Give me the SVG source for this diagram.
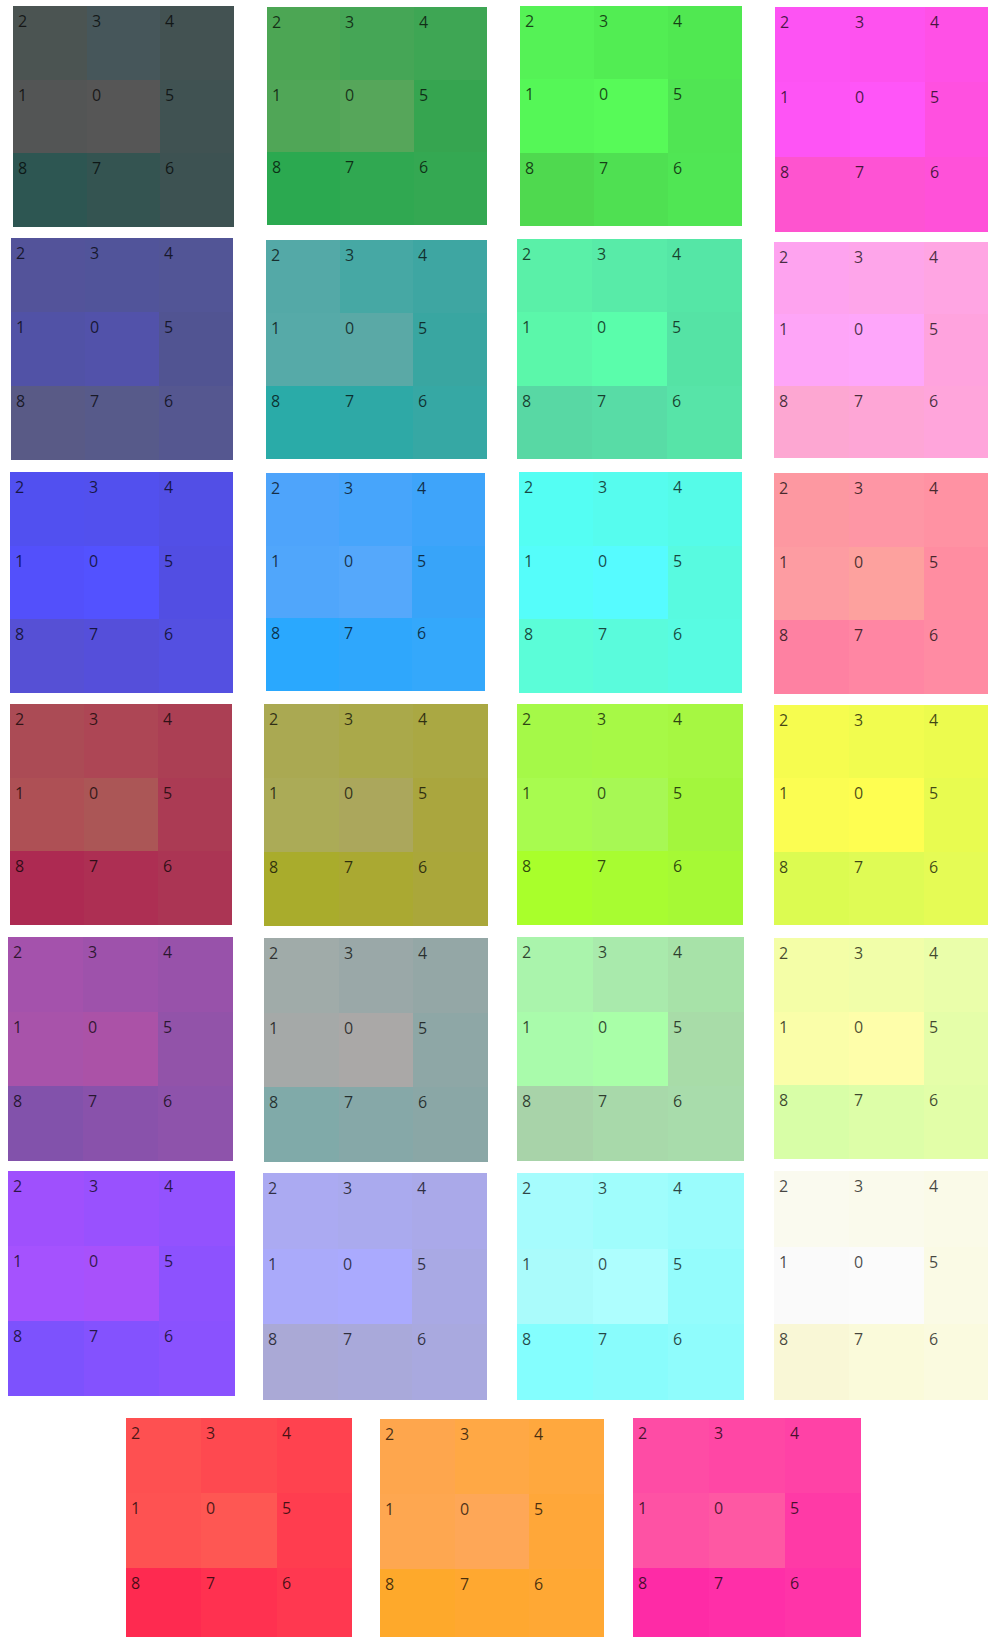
<svg xmlns="http://www.w3.org/2000/svg" width="988" height="1637" viewBox="0 0 988 1637">
<style>
rect{shape-rendering:crispEdges}
text{font-family:"Open Sans","Liberation Sans",sans-serif;font-size:16px;fill:#000;fill-opacity:0.72}
</style>
<rect width="988" height="1637" fill="#ffffff"/>

<g id="r1c1" transform="translate(13,6)"><g transform="scale(73.67,73.67)"><rect width="1" height="1" fill="#4b5452"/><rect x="1" width="1" height="1" fill="#46565a"/><rect x="2" width="1" height="1" fill="#435252"/><rect y="1" width="1" height="1" fill="#535555"/><rect x="1" y="1" width="1" height="1" fill="#565656"/><rect x="2" y="1" width="1" height="1" fill="#405252"/><rect y="2" width="1" height="1" fill="#2d5652"/><rect x="1" y="2" width="1" height="1" fill="#345451"/><rect x="2" y="2" width="1" height="1" fill="#3d5252"/></g><text x="5" y="21">2</text><text x="79" y="21">3</text><text x="152" y="21">4</text><text x="5" y="95">1</text><text x="79" y="95">0</text><text x="152" y="95">5</text><text x="5" y="168">8</text><text x="79" y="168">7</text><text x="152" y="168">6</text></g>

<g id="r1c2" transform="translate(267,7)"><g transform="scale(73.33,72.67)"><rect width="1" height="1" fill="#4ca654"/><rect x="1" width="1" height="1" fill="#45a656"/><rect x="2" width="1" height="1" fill="#3ea654"/><rect y="1" width="1" height="1" fill="#50a657"/><rect x="1" y="1" width="1" height="1" fill="#56a65a"/><rect x="2" y="1" width="1" height="1" fill="#36a550"/><rect y="2" width="1" height="1" fill="#2ba950"/><rect x="1" y="2" width="1" height="1" fill="#30a851"/><rect x="2" y="2" width="1" height="1" fill="#34a852"/></g><text x="5" y="21">2</text><text x="78" y="21">3</text><text x="152" y="21">4</text><text x="5" y="94">1</text><text x="78" y="94">0</text><text x="152" y="94">5</text><text x="5" y="166">8</text><text x="78" y="166">7</text><text x="152" y="166">6</text></g>

<g id="r1c3" transform="translate(520,6)"><g transform="scale(74,73.33)"><rect width="1" height="1" fill="#55f256"/><rect x="1" width="1" height="1" fill="#52ed53"/><rect x="2" width="1" height="1" fill="#50e851"/><rect y="1" width="1" height="1" fill="#55f757"/><rect x="1" y="1" width="1" height="1" fill="#57fa58"/><rect x="2" y="1" width="1" height="1" fill="#50e553"/><rect y="2" width="1" height="1" fill="#4fd94f"/><rect x="1" y="2" width="1" height="1" fill="#4fe052"/><rect x="2" y="2" width="1" height="1" fill="#50e654"/></g><text x="5" y="21">2</text><text x="79" y="21">3</text><text x="153" y="21">4</text><text x="5" y="94">1</text><text x="79" y="94">0</text><text x="153" y="94">5</text><text x="5" y="168">8</text><text x="79" y="168">7</text><text x="153" y="168">6</text></g>

<g id="r1c4" transform="translate(775,7)"><g transform="scale(75,75)"><rect width="1" height="1" fill="#fd53f3"/><rect x="1" width="1" height="1" fill="#fe52ef"/><rect x="2" width="1" height="1" fill="#ff50e6"/><rect y="1" width="1" height="1" fill="#fe54f5"/><rect x="1" y="1" width="1" height="1" fill="#ff55f8"/><rect x="2" y="1" width="1" height="1" fill="#ff50e0"/><rect y="2" width="1" height="1" fill="#fe54cf"/><rect x="1" y="2" width="1" height="1" fill="#fe53d4"/><rect x="2" y="2" width="1" height="1" fill="#ff51d9"/></g><text x="5" y="21">2</text><text x="80" y="21">3</text><text x="155" y="21">4</text><text x="5" y="96">1</text><text x="80" y="96">0</text><text x="155" y="96">5</text><text x="5" y="171">8</text><text x="80" y="171">7</text><text x="155" y="171">6</text></g>

<g id="r2c1" transform="translate(11,238)"><g transform="scale(74,74)"><rect width="1" height="1" fill="#53539a"/><rect x="1" width="1" height="1" fill="#51549a"/><rect x="2" width="1" height="1" fill="#525596"/><rect y="1" width="1" height="1" fill="#5152a6"/><rect x="1" y="1" width="1" height="1" fill="#5252aa"/><rect x="2" y="1" width="1" height="1" fill="#515492"/><rect y="2" width="1" height="1" fill="#595a86"/><rect x="1" y="2" width="1" height="1" fill="#575a8a"/><rect x="2" y="2" width="1" height="1" fill="#555790"/></g><text x="5" y="21">2</text><text x="79" y="21">3</text><text x="153" y="21">4</text><text x="5" y="95">1</text><text x="79" y="95">0</text><text x="153" y="95">5</text><text x="5" y="169">8</text><text x="79" y="169">7</text><text x="153" y="169">6</text></g>

<g id="r2c2" transform="translate(266,240)"><g transform="scale(73.67,73)"><rect width="1" height="1" fill="#54a9a7"/><rect x="1" width="1" height="1" fill="#46a8a4"/><rect x="2" width="1" height="1" fill="#3ea6a2"/><rect y="1" width="1" height="1" fill="#56aaa8"/><rect x="1" y="1" width="1" height="1" fill="#5aa9a6"/><rect x="2" y="1" width="1" height="1" fill="#39a6a1"/><rect y="2" width="1" height="1" fill="#2aaba8"/><rect x="1" y="2" width="1" height="1" fill="#2ea9a6"/><rect x="2" y="2" width="1" height="1" fill="#36a8a4"/></g><text x="5" y="21">2</text><text x="79" y="21">3</text><text x="152" y="21">4</text><text x="5" y="94">1</text><text x="79" y="94">0</text><text x="152" y="94">5</text><text x="5" y="167">8</text><text x="79" y="167">7</text><text x="152" y="167">6</text></g>

<g id="r2c3" transform="translate(517,239)"><g transform="scale(75,73.33)"><rect width="1" height="1" fill="#5af0a8"/><rect x="1" width="1" height="1" fill="#58eba8"/><rect x="2" width="1" height="1" fill="#55e6a6"/><rect y="1" width="1" height="1" fill="#5bf7aa"/><rect x="1" y="1" width="1" height="1" fill="#5afdab"/><rect x="2" y="1" width="1" height="1" fill="#55e3a5"/><rect y="2" width="1" height="1" fill="#58d8a4"/><rect x="1" y="2" width="1" height="1" fill="#58dca6"/><rect x="2" y="2" width="1" height="1" fill="#57e4a8"/></g><text x="5" y="21">2</text><text x="80" y="21">3</text><text x="155" y="21">4</text><text x="5" y="94">1</text><text x="80" y="94">0</text><text x="155" y="94">5</text><text x="5" y="168">8</text><text x="80" y="168">7</text><text x="155" y="168">6</text></g>

<g id="r2c4" transform="translate(774,242)"><g transform="scale(75,72)"><rect width="1" height="1" fill="#fea3ef"/><rect x="1" width="1" height="1" fill="#fea5ea"/><rect x="2" width="1" height="1" fill="#ffa5e3"/><rect y="1" width="1" height="1" fill="#fea5f7"/><rect x="1" y="1" width="1" height="1" fill="#fea6fa"/><rect x="2" y="1" width="1" height="1" fill="#ffa3de"/><rect y="2" width="1" height="1" fill="#fda7d2"/><rect x="1" y="2" width="1" height="1" fill="#fea6d6"/><rect x="2" y="2" width="1" height="1" fill="#ffa5db"/></g><text x="5" y="21">2</text><text x="80" y="21">3</text><text x="155" y="21">4</text><text x="5" y="93">1</text><text x="80" y="93">0</text><text x="155" y="93">5</text><text x="5" y="165">8</text><text x="80" y="165">7</text><text x="155" y="165">6</text></g>

<g id="r3c1" transform="translate(10,472)"><g transform="scale(74.33,73.67)"><rect width="1" height="1" fill="#5150f0"/><rect x="1" width="1" height="1" fill="#5250ee"/><rect x="2" width="1" height="1" fill="#524fe6"/><rect y="1" width="1" height="1" fill="#5350fb"/><rect x="1" y="1" width="1" height="1" fill="#5352ff"/><rect x="2" y="1" width="1" height="1" fill="#524ee3"/><rect y="2" width="1" height="1" fill="#5650d5"/><rect x="1" y="2" width="1" height="1" fill="#554fda"/><rect x="2" y="2" width="1" height="1" fill="#5450e1"/></g><text x="5" y="21">2</text><text x="79" y="21">3</text><text x="154" y="21">4</text><text x="5" y="95">1</text><text x="79" y="95">0</text><text x="154" y="95">5</text><text x="5" y="168">8</text><text x="79" y="168">7</text><text x="154" y="168">6</text></g>

<g id="r3c2" transform="translate(266,473)"><g transform="scale(73,72.67)"><rect width="1" height="1" fill="#4ea4fb"/><rect x="1" width="1" height="1" fill="#47a5fb"/><rect x="2" width="1" height="1" fill="#3ea4fa"/><rect y="1" width="1" height="1" fill="#50a6fb"/><rect x="1" y="1" width="1" height="1" fill="#55a8fb"/><rect x="2" y="1" width="1" height="1" fill="#38a4f9"/><rect y="2" width="1" height="1" fill="#2aa8fe"/><rect x="1" y="2" width="1" height="1" fill="#2fa7fc"/><rect x="2" y="2" width="1" height="1" fill="#34a8fb"/></g><text x="5" y="21">2</text><text x="78" y="21">3</text><text x="151" y="21">4</text><text x="5" y="94">1</text><text x="78" y="94">0</text><text x="151" y="94">5</text><text x="5" y="166">8</text><text x="78" y="166">7</text><text x="151" y="166">6</text></g>

<g id="r3c3" transform="translate(519,472)"><g transform="scale(74.33,73.67)"><rect width="1" height="1" fill="#54fef3"/><rect x="1" width="1" height="1" fill="#56fcee"/><rect x="2" width="1" height="1" fill="#55fbe8"/><rect y="1" width="1" height="1" fill="#55fdfa"/><rect x="1" y="1" width="1" height="1" fill="#56fbff"/><rect x="2" y="1" width="1" height="1" fill="#58fae0"/><rect y="2" width="1" height="1" fill="#5bfdd8"/><rect x="1" y="2" width="1" height="1" fill="#5afbdc"/><rect x="2" y="2" width="1" height="1" fill="#58fbe2"/></g><text x="5" y="21">2</text><text x="79" y="21">3</text><text x="154" y="21">4</text><text x="5" y="95">1</text><text x="79" y="95">0</text><text x="154" y="95">5</text><text x="5" y="168">8</text><text x="79" y="168">7</text><text x="154" y="168">6</text></g>

<g id="r3c4" transform="translate(774,473)"><g transform="scale(75,73.67)"><rect width="1" height="1" fill="#fd98a1"/><rect x="1" width="1" height="1" fill="#fe96a5"/><rect x="2" width="1" height="1" fill="#ff92a3"/><rect y="1" width="1" height="1" fill="#fd9ca2"/><rect x="1" y="1" width="1" height="1" fill="#fda19e"/><rect x="2" y="1" width="1" height="1" fill="#ff8da1"/><rect y="2" width="1" height="1" fill="#fe81a2"/><rect x="1" y="2" width="1" height="1" fill="#ff86a3"/><rect x="2" y="2" width="1" height="1" fill="#ff8ba3"/></g><text x="5" y="21">2</text><text x="80" y="21">3</text><text x="155" y="21">4</text><text x="5" y="95">1</text><text x="80" y="95">0</text><text x="155" y="95">5</text><text x="5" y="168">8</text><text x="80" y="168">7</text><text x="155" y="168">6</text></g>

<g id="r4c1" transform="translate(10,704)"><g transform="scale(74,73.67)"><rect width="1" height="1" fill="#ab4b55"/><rect x="1" width="1" height="1" fill="#ad4655"/><rect x="2" width="1" height="1" fill="#ab3f54"/><rect y="1" width="1" height="1" fill="#ae5055"/><rect x="1" y="1" width="1" height="1" fill="#ab5656"/><rect x="2" y="1" width="1" height="1" fill="#ab3b54"/><rect y="2" width="1" height="1" fill="#ad2a52"/><rect x="1" y="2" width="1" height="1" fill="#ad2f53"/><rect x="2" y="2" width="1" height="1" fill="#ab3554"/></g><text x="5" y="21">2</text><text x="79" y="21">3</text><text x="153" y="21">4</text><text x="5" y="95">1</text><text x="79" y="95">0</text><text x="153" y="95">5</text><text x="5" y="168">8</text><text x="79" y="168">7</text><text x="153" y="168">6</text></g>

<g id="r4c2" transform="translate(264,704)"><g transform="scale(74.67,74)"><rect width="1" height="1" fill="#aaa952"/><rect x="1" width="1" height="1" fill="#aaa94a"/><rect x="2" width="1" height="1" fill="#aaa843"/><rect y="1" width="1" height="1" fill="#abab57"/><rect x="1" y="1" width="1" height="1" fill="#aba75c"/><rect x="2" y="1" width="1" height="1" fill="#aaa63e"/><rect y="2" width="1" height="1" fill="#a9ac2c"/><rect x="1" y="2" width="1" height="1" fill="#aaa932"/><rect x="2" y="2" width="1" height="1" fill="#aaa73a"/></g><text x="5" y="21">2</text><text x="80" y="21">3</text><text x="154" y="21">4</text><text x="5" y="95">1</text><text x="80" y="95">0</text><text x="154" y="95">5</text><text x="5" y="169">8</text><text x="80" y="169">7</text><text x="154" y="169">6</text></g>

<g id="r4c3" transform="translate(517,704)"><g transform="scale(75.33,73.67)"><rect width="1" height="1" fill="#a5f948"/><rect x="1" width="1" height="1" fill="#a7f946"/><rect x="2" width="1" height="1" fill="#a6f742"/><rect y="1" width="1" height="1" fill="#a8fb4f"/><rect x="1" y="1" width="1" height="1" fill="#a7f854"/><rect x="2" y="1" width="1" height="1" fill="#a3f63d"/><rect y="2" width="1" height="1" fill="#a9ff2b"/><rect x="1" y="2" width="1" height="1" fill="#a8fc31"/><rect x="2" y="2" width="1" height="1" fill="#a6f935"/></g><text x="5" y="21">2</text><text x="80" y="21">3</text><text x="156" y="21">4</text><text x="5" y="95">1</text><text x="80" y="95">0</text><text x="156" y="95">5</text><text x="5" y="168">8</text><text x="80" y="168">7</text><text x="156" y="168">6</text></g>

<g id="r4c4" transform="translate(774,705)"><g transform="scale(75,73.33)"><rect width="1" height="1" fill="#f6fc4f"/><rect x="1" width="1" height="1" fill="#f1fc4f"/><rect x="2" width="1" height="1" fill="#ecfb4e"/><rect y="1" width="1" height="1" fill="#fbfd52"/><rect x="1" y="1" width="1" height="1" fill="#fefe51"/><rect x="2" y="1" width="1" height="1" fill="#e8fb50"/><rect y="2" width="1" height="1" fill="#dcfb51"/><rect x="1" y="2" width="1" height="1" fill="#dffb55"/><rect x="2" y="2" width="1" height="1" fill="#e5fb55"/></g><text x="5" y="21">2</text><text x="80" y="21">3</text><text x="155" y="21">4</text><text x="5" y="94">1</text><text x="80" y="94">0</text><text x="155" y="94">5</text><text x="5" y="168">8</text><text x="80" y="168">7</text><text x="155" y="168">6</text></g>

<g id="r5c1" transform="translate(8,937)"><g transform="scale(75,74.67)"><rect width="1" height="1" fill="#a452ac"/><rect x="1" width="1" height="1" fill="#9e52ab"/><rect x="2" width="1" height="1" fill="#9852aa"/><rect y="1" width="1" height="1" fill="#a853aa"/><rect x="1" y="1" width="1" height="1" fill="#ab52a7"/><rect x="2" y="1" width="1" height="1" fill="#9253a9"/><rect y="2" width="1" height="1" fill="#8252ab"/><rect x="1" y="2" width="1" height="1" fill="#8952ab"/><rect x="2" y="2" width="1" height="1" fill="#8e53ab"/></g><text x="5" y="21">2</text><text x="80" y="21">3</text><text x="155" y="21">4</text><text x="5" y="96">1</text><text x="80" y="96">0</text><text x="155" y="96">5</text><text x="5" y="170">8</text><text x="80" y="170">7</text><text x="155" y="170">6</text></g>

<g id="r5c2" transform="translate(264,938)"><g transform="scale(74.67,74.67)"><rect width="1" height="1" fill="#a0aba9"/><rect x="1" width="1" height="1" fill="#9aa8a8"/><rect x="2" width="1" height="1" fill="#94a7a6"/><rect y="1" width="1" height="1" fill="#a5a9a8"/><rect x="1" y="1" width="1" height="1" fill="#aaa8a7"/><rect x="2" y="1" width="1" height="1" fill="#8ea7a6"/><rect y="2" width="1" height="1" fill="#80aaa9"/><rect x="1" y="2" width="1" height="1" fill="#86a8a8"/><rect x="2" y="2" width="1" height="1" fill="#8aa7a6"/></g><text x="5" y="21">2</text><text x="80" y="21">3</text><text x="154" y="21">4</text><text x="5" y="96">1</text><text x="80" y="96">0</text><text x="154" y="96">5</text><text x="5" y="170">8</text><text x="80" y="170">7</text><text x="154" y="170">6</text></g>

<g id="r5c3" transform="translate(517,937)"><g transform="scale(75.67,74.67)"><rect width="1" height="1" fill="#aaf4ac"/><rect x="1" width="1" height="1" fill="#a9eaac"/><rect x="2" width="1" height="1" fill="#a7e2a8"/><rect y="1" width="1" height="1" fill="#a9fbab"/><rect x="1" y="1" width="1" height="1" fill="#a9ffa8"/><rect x="2" y="1" width="1" height="1" fill="#a8dca8"/><rect y="2" width="1" height="1" fill="#a8d3a9"/><rect x="1" y="2" width="1" height="1" fill="#a8d9aa"/><rect x="2" y="2" width="1" height="1" fill="#a8dcab"/></g><text x="5" y="21">2</text><text x="81" y="21">3</text><text x="156" y="21">4</text><text x="5" y="96">1</text><text x="81" y="96">0</text><text x="156" y="96">5</text><text x="5" y="170">8</text><text x="81" y="170">7</text><text x="156" y="170">6</text></g>

<g id="r5c4" transform="translate(774,938)"><g transform="scale(75,73.67)"><rect width="1" height="1" fill="#f4fea7"/><rect x="1" width="1" height="1" fill="#f1fea9"/><rect x="2" width="1" height="1" fill="#eafeaa"/><rect y="1" width="1" height="1" fill="#fafea9"/><rect x="1" y="1" width="1" height="1" fill="#fefeaa"/><rect x="2" y="1" width="1" height="1" fill="#e5fea9"/><rect y="2" width="1" height="1" fill="#d8fea7"/><rect x="1" y="2" width="1" height="1" fill="#ddfea8"/><rect x="2" y="2" width="1" height="1" fill="#e2fea8"/></g><text x="5" y="21">2</text><text x="80" y="21">3</text><text x="155" y="21">4</text><text x="5" y="95">1</text><text x="80" y="95">0</text><text x="155" y="95">5</text><text x="5" y="168">8</text><text x="80" y="168">7</text><text x="155" y="168">6</text></g>

<g id="r6c1" transform="translate(8,1171)"><g transform="scale(75.67,75)"><rect width="1" height="1" fill="#9f50fd"/><rect x="1" width="1" height="1" fill="#9951fe"/><rect x="2" width="1" height="1" fill="#9352fe"/><rect y="1" width="1" height="1" fill="#a552fe"/><rect x="1" y="1" width="1" height="1" fill="#a851fb"/><rect x="2" y="1" width="1" height="1" fill="#8d52fe"/><rect y="2" width="1" height="1" fill="#7d52fd"/><rect x="1" y="2" width="1" height="1" fill="#8452fe"/><rect x="2" y="2" width="1" height="1" fill="#8a52fe"/></g><text x="5" y="21">2</text><text x="81" y="21">3</text><text x="156" y="21">4</text><text x="5" y="96">1</text><text x="81" y="96">0</text><text x="156" y="96">5</text><text x="5" y="171">8</text><text x="81" y="171">7</text><text x="156" y="171">6</text></g>

<g id="r6c2" transform="translate(263,1173)"><g transform="scale(74.67,75.67)"><rect width="1" height="1" fill="#abaaf2"/><rect x="1" width="1" height="1" fill="#aaaaee"/><rect x="2" width="1" height="1" fill="#aaa9e9"/><rect y="1" width="1" height="1" fill="#aaaafa"/><rect x="1" y="1" width="1" height="1" fill="#aaaafe"/><rect x="2" y="1" width="1" height="1" fill="#a9a9e4"/><rect y="2" width="1" height="1" fill="#aaa9d6"/><rect x="1" y="2" width="1" height="1" fill="#a9a9da"/><rect x="2" y="2" width="1" height="1" fill="#a9a9df"/></g><text x="5" y="21">2</text><text x="80" y="21">3</text><text x="154" y="21">4</text><text x="5" y="97">1</text><text x="80" y="97">0</text><text x="154" y="97">5</text><text x="5" y="172">8</text><text x="80" y="172">7</text><text x="154" y="172">6</text></g>

<g id="r6c3" transform="translate(517,1173)"><g transform="scale(75.67,75.67)"><rect width="1" height="1" fill="#a6fcfd"/><rect x="1" width="1" height="1" fill="#a0fdfc"/><rect x="2" width="1" height="1" fill="#9afcfc"/><rect y="1" width="1" height="1" fill="#aafbfb"/><rect x="1" y="1" width="1" height="1" fill="#aefefe"/><rect x="2" y="1" width="1" height="1" fill="#94fcfc"/><rect y="2" width="1" height="1" fill="#84fefe"/><rect x="1" y="2" width="1" height="1" fill="#89fcfc"/><rect x="2" y="2" width="1" height="1" fill="#8ffcfc"/></g><text x="5" y="21">2</text><text x="81" y="21">3</text><text x="156" y="21">4</text><text x="5" y="97">1</text><text x="81" y="97">0</text><text x="156" y="97">5</text><text x="5" y="172">8</text><text x="81" y="172">7</text><text x="156" y="172">6</text></g>

<g id="r6c4" transform="translate(774,1171)"><g transform="scale(75,76.33)"><rect width="1" height="1" fill="#fafaef"/><rect x="1" width="1" height="1" fill="#fafaec"/><rect x="2" width="1" height="1" fill="#fafae8"/><rect y="1" width="1" height="1" fill="#fafafa"/><rect x="1" y="1" width="1" height="1" fill="#fbfbfb"/><rect x="2" y="1" width="1" height="1" fill="#fafae5"/><rect y="2" width="1" height="1" fill="#f9f7d6"/><rect x="1" y="2" width="1" height="1" fill="#fafada"/><rect x="2" y="2" width="1" height="1" fill="#fafadf"/></g><text x="5" y="21">2</text><text x="80" y="21">3</text><text x="155" y="21">4</text><text x="5" y="97">1</text><text x="80" y="97">0</text><text x="155" y="97">5</text><text x="5" y="174">8</text><text x="80" y="174">7</text><text x="155" y="174">6</text></g>

<g id="r7c1" transform="translate(126,1418)"><g transform="scale(75.33,75)"><rect width="1" height="1" fill="#fe5051"/><rect x="1" width="1" height="1" fill="#fe4950"/><rect x="2" width="1" height="1" fill="#ff424f"/><rect y="1" width="1" height="1" fill="#fe5252"/><rect x="1" y="1" width="1" height="1" fill="#fe5753"/><rect x="2" y="1" width="1" height="1" fill="#ff3d4f"/><rect y="2" width="1" height="1" fill="#fe2a50"/><rect x="1" y="2" width="1" height="1" fill="#ff3150"/><rect x="2" y="2" width="1" height="1" fill="#ff3850"/></g><text x="5" y="21">2</text><text x="80" y="21">3</text><text x="156" y="21">4</text><text x="5" y="96">1</text><text x="80" y="96">0</text><text x="156" y="96">5</text><text x="5" y="171">8</text><text x="80" y="171">7</text><text x="156" y="171">6</text></g>

<g id="r7c2" transform="translate(380,1419)"><g transform="scale(74.67,75)"><rect width="1" height="1" fill="#fea64d"/><rect x="1" width="1" height="1" fill="#ffa845"/><rect x="2" width="1" height="1" fill="#ffa83e"/><rect y="1" width="1" height="1" fill="#fea750"/><rect x="1" y="1" width="1" height="1" fill="#fea757"/><rect x="2" y="1" width="1" height="1" fill="#ffa739"/><rect y="2" width="1" height="1" fill="#fea92b"/><rect x="1" y="2" width="1" height="1" fill="#ffa830"/><rect x="2" y="2" width="1" height="1" fill="#ffa834"/></g><text x="5" y="21">2</text><text x="80" y="21">3</text><text x="154" y="21">4</text><text x="5" y="96">1</text><text x="80" y="96">0</text><text x="154" y="96">5</text><text x="5" y="171">8</text><text x="80" y="171">7</text><text x="154" y="171">6</text></g>

<g id="r7c3" transform="translate(633,1418)"><g transform="scale(76,75)"><rect width="1" height="1" fill="#fe4ca5"/><rect x="1" width="1" height="1" fill="#ff47a5"/><rect x="2" width="1" height="1" fill="#ff42a6"/><rect y="1" width="1" height="1" fill="#fe52a4"/><rect x="1" y="1" width="1" height="1" fill="#fe58a3"/><rect x="2" y="1" width="1" height="1" fill="#ff3aa6"/><rect y="2" width="1" height="1" fill="#fe2ba6"/><rect x="1" y="2" width="1" height="1" fill="#ff2fa8"/><rect x="2" y="2" width="1" height="1" fill="#ff34a8"/></g><text x="5" y="21">2</text><text x="81" y="21">3</text><text x="157" y="21">4</text><text x="5" y="96">1</text><text x="81" y="96">0</text><text x="157" y="96">5</text><text x="5" y="171">8</text><text x="81" y="171">7</text><text x="157" y="171">6</text></g>

<g id="connectors"></g>
</svg>
